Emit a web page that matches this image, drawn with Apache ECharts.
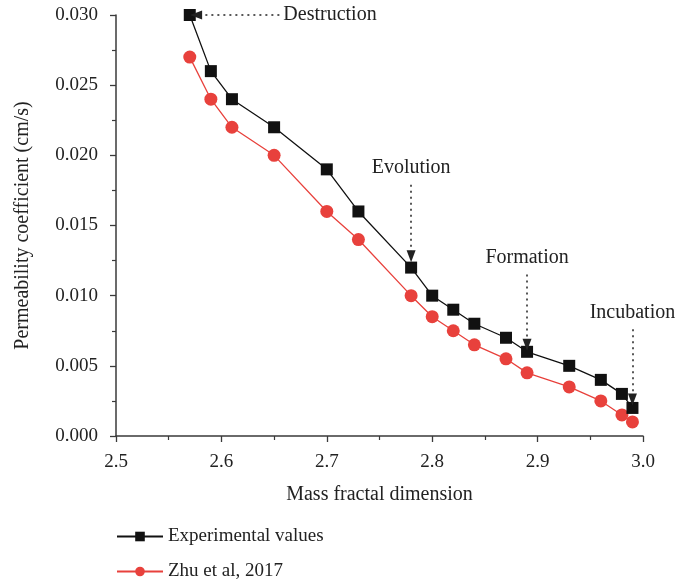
<!DOCTYPE html>
<html>
<head>
<meta charset="utf-8">
<script src="https://cdn.jsdelivr.net/npm/echarts@6/dist/echarts.min.js"></script>
<style>
  html, body { margin: 0; padding: 0; background: #fff; }
  #chart { width: 684px; height: 584px; }
</style>
</head>
<body>
<div id="chart"></div>
<script>
// 分形维数 (x)
var dims = [2.57, 2.59, 2.61, 2.65, 2.70, 2.73, 2.78, 2.80, 2.82, 2.84, 2.87, 2.89, 2.93, 2.96, 2.98, 2.99];
// 实验值
var expVals = [0.030, 0.026, 0.024, 0.022, 0.019, 0.016, 0.012, 0.010, 0.009, 0.008, 0.007, 0.006, 0.005, 0.004, 0.003, 0.002];
// Zhu et al, 2017
var zhuVals = [0.027, 0.024, 0.022, 0.020, 0.016, 0.014, 0.010, 0.0085, 0.0075, 0.0065, 0.0055, 0.0045, 0.0035, 0.0025, 0.0015, 0.001];

var xTicks = [2.5, 2.6, 2.7, 2.8, 2.9, 3.0];
var yTicks = [0.000, 0.005, 0.010, 0.015, 0.020, 0.025, 0.030];

// 阶段标注: 名称, 起点, 箭头终点
var stageNames = ['Destruction', 'Evolution', 'Formation', 'Incubation'];
var stageFrom = [[2.655, 0.030], [2.78, 0.0179], [2.89, 0.0115], [2.99, 0.0076]];
var stageTo = [[2.576, 0.030], [2.78, 0.0128], [2.89, 0.0065], [2.99, 0.0026]];

function pairs(xs, ys) {
    var out = [];
    for (var i = 0; i < xs.length; i++) {
        out.push([xs[i], ys[i]]);
    }
    return out;
}

var font = 'Liberation Serif';
var axisColor = '#3a3a3a';

var markData = [];
for (var i = 0; i < stageNames.length; i++) {
    var horiz = stageFrom[i][1] === stageTo[i][1];
    markData.push([
        {
            coord: stageFrom[i],
            label: {
                show: true,
                position: 'start',
                formatter: stageNames[i],
                fontFamily: font,
                fontSize: 20,
                color: '#222',
                distance: horiz ? 4 : 7
            }
        },
        { coord: stageTo[i] }
    ]);
}

var oChart = echarts.init(document.getElementById('chart'));
var opt = {
    animation: false,
    backgroundColor: '#fff',
    grid: {
        left: 116,
        right: 41,
        top: 15,
        bottom: 148
    },
    legend: {
        orient: 'vertical',
        left: 116,
        top: 527,
        padding: 0,
        itemGap: 16,
        itemWidth: 46,
        itemHeight: 12,
        textStyle: { fontFamily: font, fontSize: 19, color: '#222' },
        data: ['Experimental values', 'Zhu et al, 2017']
    },
    xAxis: {
        type: 'value',
        min: 2.5,
        max: 3.0,
        interval: 0.1,
        name: 'Mass fractal dimension',
        nameLocation: 'middle',
        nameGap: 49,
        nameTextStyle: { fontFamily: font, fontSize: 20, color: '#222' },
        axisLine: { show: true, lineStyle: { color: axisColor, width: 1.5 } },
        axisTick: { show: true, inside: false, length: 6, lineStyle: { color: axisColor, width: 1.3 } },
        minorTick: { show: true, splitNumber: 2, length: 4, lineStyle: { color: axisColor, width: 1.2 } },
        splitLine: { show: false },
        axisLabel: {
            fontFamily: font,
            fontSize: 19,
            color: '#222',
            margin: 17,
            formatter: function (v) { return v.toFixed(1); }
        }
    },
    yAxis: {
        type: 'value',
        min: 0,
        max: 0.030,
        interval: 0.005,
        name: 'Permeability coefficient (cm/s)',
        nameLocation: 'middle',
        nameGap: 83,
        nameTextStyle: { fontFamily: font, fontSize: 20, color: '#222' },
        axisLine: { show: true, lineStyle: { color: axisColor, width: 1.5 } },
        axisTick: { show: true, inside: false, length: 6, lineStyle: { color: axisColor, width: 1.3 } },
        minorTick: { show: true, splitNumber: 2, length: 4, lineStyle: { color: axisColor, width: 1.2 } },
        splitLine: { show: false },
        axisLabel: {
            fontFamily: font,
            fontSize: 19,
            color: '#222',
            margin: 18,
            formatter: function (v) { return v.toFixed(3); }
        }
    },
    series: [
        {
            name: 'Experimental values',
            type: 'line',
            data: pairs(dims, expVals),
            symbol: 'rect',
            symbolSize: 12,
            z: 3,
            itemStyle: { color: '#111' },
            lineStyle: { color: '#111', width: 1.3 },
            markLine: {
                silent: true,
                symbol: ['none', 'triangle'],
                symbolSize: [9, 12],
                lineStyle: { color: '#222', type: [2, 4], width: 1.5 },
                itemStyle: { color: '#111' },
                data: markData
            }
        },
        {
            name: 'Zhu et al, 2017',
            type: 'line',
            data: pairs(dims, zhuVals),
            symbol: 'circle',
            symbolSize: 13,
            z: 2,
            itemStyle: { color: '#e8413c' },
            lineStyle: { color: '#e8413c', width: 1.3 }
        }
    ]
};
oChart.setOption(opt);
</script>
</body>
</html>
